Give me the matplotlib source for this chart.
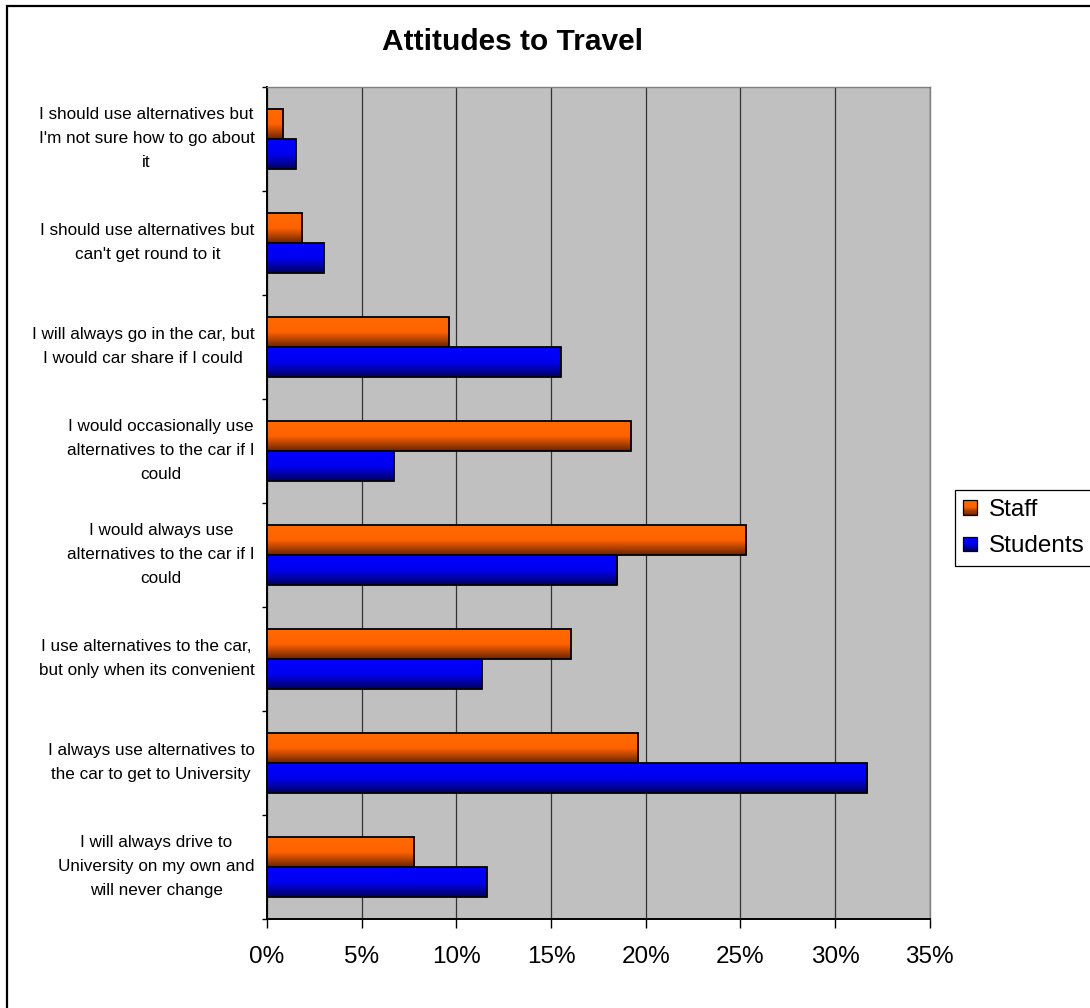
'''
    @Title: Horizontal bar chart of attitudes to travel for staff and students.
'''

# Importing necessary libraries
import numpy as np
import matplotlib
matplotlib.use('Agg')
import matplotlib.pyplot as plt
from matplotlib.colors import LinearSegmentedColormap
from matplotlib.patches import Rectangle, Patch
from matplotlib.legend_handler import HandlerBase
from matplotlib.ticker import PercentFormatter, MultipleLocator, FixedLocator

plt.rcParams['font.family'] = ['Liberation Sans', 'DejaVu Sans']

# Survey answers, top to bottom
categories = [
    "I should use alternatives but\nI'm not sure how to go about\nit",
    "I should use alternatives but\ncan't get round to it",
    "I will always go in the car, but\nI would car share if I could",
    "I would occasionally use\nalternatives to the car if I\ncould",
    "I would always use\nalternatives to the car if I\ncould",
    "I use alternatives to the car,\nbut only when its convenient",
    "I always use alternatives to\nthe car to get to University",
    "I will always drive to\nUniversity on my own and\nwill never change",
]

# Share of respondents (%)
staff = [0.83, 1.85, 9.6, 19.2, 25.3, 16.05, 19.6, 7.78]
students = [1.53, 3.0, 15.5, 6.7, 18.5, 11.35, 31.7, 11.6]

series_names = ['Staff', 'Students']
x_ticks = [0, 5, 10, 15, 20, 25, 30, 35]

# Two-tone fills, bright on top and dark at the bottom
staff_cmap = LinearSegmentedColormap.from_list('staff', ['#ff6a00', '#ff6200', '#6a2400'])
students_cmap = LinearSegmentedColormap.from_list('students', ['#0000ff', '#0000f0', '#000060'])


class GradientHandler(HandlerBase):
    """Legend key drawn as a small square with the same vertical gradient."""

    def __init__(self, cmap, steps=14):
        super().__init__()
        self.cmap = cmap
        self.steps = steps

    def create_artists(self, legend, orig_handle, xdescent, ydescent,
                       width, height, fontsize, trans):
        artists = []
        for k in range(self.steps):
            y0 = -ydescent + height * (1 - (k + 1) / self.steps)
            artists.append(Rectangle((-xdescent, y0), width, height / self.steps,
                                     facecolor=self.cmap(k / (self.steps - 1)),
                                     edgecolor='none', transform=trans))
        artists.append(Rectangle((-xdescent, -ydescent), width, height,
                                 facecolor='none', edgecolor='black',
                                 linewidth=0.9, transform=trans))
        return artists


def gradient_bars(ax, positions, values, height, cmap):
    """
    Description:
    Draw horizontal bars and fill each one with a vertical gradient.
    """
    bars = ax.barh(positions, values, height=height, color='none',
                   edgecolor='black', linewidth=1.3, zorder=4)
    grad = np.linspace(0, 1, 64).reshape(-1, 1)
    for patch in bars:
        x0 = patch.get_x()
        y0 = patch.get_y()
        im = ax.imshow(grad, cmap=cmap, aspect='auto', origin='upper',
                       extent=(x0, x0 + patch.get_width(),
                               y0 + patch.get_height(), y0),
                       interpolation='bilinear', zorder=3)
        im.set_clip_path(patch)
    return bars


def create_chart():
    fig = plt.figure(figsize=(10.9, 10.08), dpi=100)
    ax = fig.add_axes([0.245, 0.0883, 0.608, 0.8254])
    ax.set_facecolor('#c0c0c0')

    n = len(categories)
    idx = np.arange(n)
    h = 0.288

    gradient_bars(ax, idx - h / 2, staff, h, staff_cmap)
    gradient_bars(ax, idx + h / 2, students, h, students_cmap)

    ax.set_xlim(0, 35)
    ax.set_ylim(n - 0.5, -0.5)

    # x axis: percentages with vertical grid lines
    ax.xaxis.set_major_locator(FixedLocator(x_ticks))
    ax.xaxis.set_major_formatter(PercentFormatter(decimals=0))
    ax.tick_params(axis='x', direction='out', length=6.5, width=1,
                   pad=13, labelsize=17.5)
    ax.grid(axis='x', color='#333333', linewidth=0.9, zorder=1)
    ax.set_axisbelow(True)

    # y axis: labels at the centres, tick marks between groups
    ax.set_yticks(idx)
    ax.set_yticklabels(categories, fontsize=12.3, linespacing=1.75,
                       multialignment='center', va='center')
    ax.yaxis.set_minor_locator(MultipleLocator(1, offset=0.5))
    ax.tick_params(axis='y', which='major', length=0, pad=9)
    ax.tick_params(axis='y', which='minor', direction='out', length=3.5, width=1)

    for side in ['left', 'bottom']:
        ax.spines[side].set_color('black')
        ax.spines[side].set_linewidth(1.4)
    for side in ['top', 'right']:
        ax.spines[side].set_color('#808080')
        ax.spines[side].set_linewidth(1.0)

    fig.text(0.47, 0.958, 'Attitudes to Travel', ha='center', va='center',
             fontsize=21.5, fontweight='bold')

    # Legend with gradient keys
    h_staff = Patch(label=series_names[0])
    h_students = Patch(label=series_names[1])
    fig.legend(handles=[h_staff, h_students],
               handler_map={h_staff: GradientHandler(staff_cmap),
                            h_students: GradientHandler(students_cmap)},
               loc='center left', bbox_to_anchor=(0.876, 0.476),
               borderaxespad=0, fontsize=17.5, frameon=True, fancybox=False,
               edgecolor='black', framealpha=1, handlelength=0.55,
               handleheight=0.55, handletextpad=0.5, borderpad=0.35,
               labelspacing=0.6)
    fig.legends[0].get_frame().set_linewidth(0.9)

    # Chart area border
    fig.add_artist(Rectangle((7 / 1090, -0.1), 1.2, 1.1 - 6 / 1008,
                             transform=fig.transFigure, facecolor='none',
                             edgecolor='black', linewidth=1.6))

    fig.savefig('out.png', dpi=100)


def main():
    create_chart()


if __name__ == "__main__":
    main()
